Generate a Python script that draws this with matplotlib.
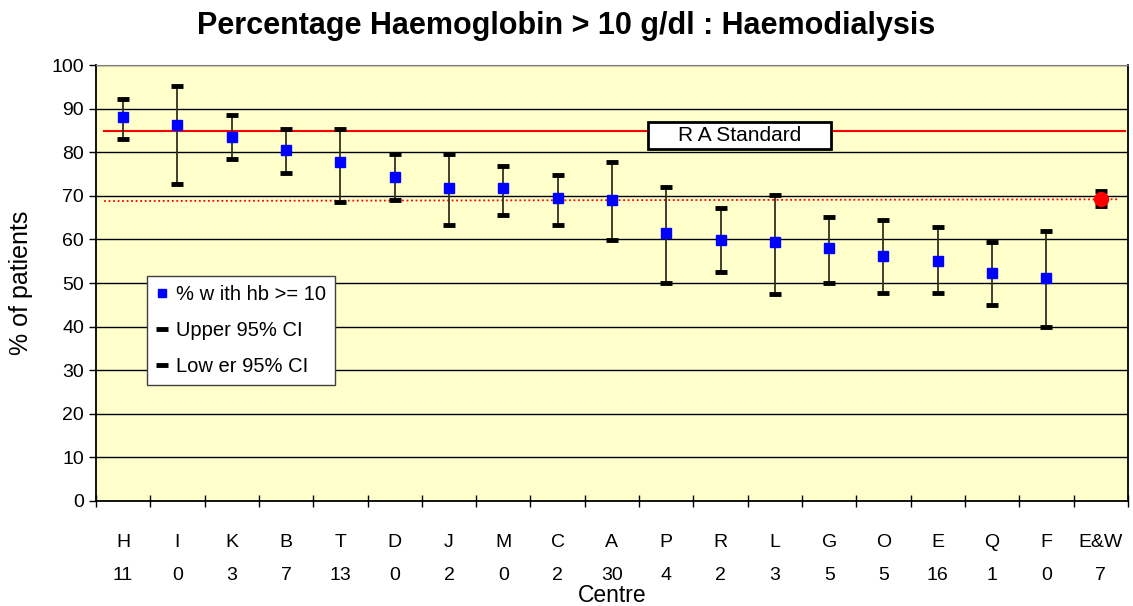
import matplotlib
matplotlib.use("Agg")
import matplotlib.pyplot as plt
import numpy as np
from matplotlib.lines import Line2D
from matplotlib.patches import Rectangle

plt.rcParams['font.family'] = ['Liberation Sans', 'DejaVu Sans']

# data
centres = ['H', 'I', 'K', 'B', 'T', 'D', 'J', 'M', 'C', 'A', 'P', 'R', 'L', 'G', 'O', 'E', 'Q', 'F', 'E&W']
counts = ['11', '0', '3', '7', '13', '0', '2', '0', '2', '30', '4', '2', '3', '5', '5', '16', '1', '0', '7']
pct = [88.0, 86.3, 83.6, 80.4, 77.8, 74.4, 71.7, 71.7, 69.5, 69.1, 61.5, 59.8, 59.3, 58.0, 56.2, 55.0, 52.4, 51.1, 69.3]
upper = [92.1, 95.1, 88.5, 85.4, 85.4, 79.7, 79.7, 76.9, 74.8, 77.8, 72.1, 67.3, 70.2, 65.1, 64.5, 62.8, 59.3, 62.0, 71.1]
lower = [83.1, 72.6, 78.4, 75.2, 68.6, 69.1, 63.4, 65.5, 63.4, 59.8, 50.1, 52.5, 47.5, 50.1, 47.6, 47.6, 45.0, 39.8, 67.7]
ra_standard = 84.8
ew_line = [68.8, 69.2]  # dotted reference line, start / end

fig = plt.figure(figsize=(11.33, 6.06), dpi=100)
ax = fig.add_axes([0.0847, 0.1733, 0.9108, 0.7194])
ax.set_facecolor('#FFFFCC')

x = np.arange(len(centres))
n = len(centres) - 1

# horizontal gridlines
for g in range(10, 101, 10):
    ax.axhline(g, color='black', lw=1.0, zorder=1)

ax.plot([-0.35, n + 0.45], [ra_standard, ra_standard], color='#FF0000', lw=1.5, zorder=2)
ax.plot([-0.35, n + 0.3], ew_line, color='#FF0000', lw=1.3, ls=(0, (1, 1.5)), zorder=2)

for i in range(len(centres)):
    ax.plot([x[i], x[i]], [lower[i], upper[i]], color='#303020', lw=1.3, zorder=3)
ax.plot(x, upper, ls='none', marker='_', ms=9, mew=3.5, color='black', zorder=4)
ax.plot(x, lower, ls='none', marker='_', ms=9, mew=3.5, color='black', zorder=4)
ax.plot(x[:-1], pct[:-1], ls='none', marker='s', ms=7, color='#0000FF', zorder=5)
ax.plot(x[-1:], pct[-1:], ls='none', marker='o', ms=10, color='#FF0000', zorder=5)

ax.set_xlim(-0.5, n + 0.5)
ax.set_ylim(0, 100)
ax.set_yticks(range(0, 101, 10))
ax.set_xticks(x)
ax.set_xticklabels([c + '\n' + k for c, k in zip(centres, counts)], fontsize=14, linespacing=2.2)
ax.set_xticks(np.arange(-0.5, n + 1), minor=True)
ax.tick_params(axis='x', which='major', length=0, pad=24)
ax.tick_params(axis='x', which='minor', length=8, direction='inout', width=1)
ax.tick_params(axis='y', length=5, direction='out', labelsize=14, width=1)

for s in ['left', 'bottom', 'right']:
    ax.spines[s].set_linewidth(1.3)
ax.spines['top'].set_color('#808080')

ax.set_xlabel('Centre', fontsize=16.5, labelpad=0)
ax.set_ylabel('% of patients', fontsize=18, labelpad=13)
fig.suptitle('Percentage Haemoglobin > 10 g/dl : Haemodialysis', fontsize=22, fontweight='bold', x=0.5, y=0.982)

# R A Standard label box
bx, by, bw, bh = 0.6235, 0.838, 0.1773, 0.062
ax.add_patch(Rectangle((bx - bw / 2, by - bh / 2), bw, bh, transform=ax.transAxes,
                       fc='white', ec='black', lw=2, zorder=6))
ax.text(bx, by, 'R A Standard', transform=ax.transAxes, ha='center', va='center', fontsize=15, zorder=7)

handles = [
    Line2D([], [], ls='none', marker='s', ms=6, color='#0000FF'),
    Line2D([], [], ls='none', marker='_', ms=8, mew=3.5, color='black'),
    Line2D([], [], ls='none', marker='_', ms=8, mew=3.5, color='black'),
]
leg = ax.legend(handles, ['% w ith hb >= 10', 'Upper 95% CI', 'Low er 95% CI'], loc='upper left',
                bbox_to_anchor=(0.049, 0.516), fontsize=14.5, frameon=True, fancybox=False,
                edgecolor='#404040', framealpha=1, handlelength=0.6, handletextpad=0.4,
                labelspacing=0.85, borderpad=0.45, borderaxespad=0)
leg.get_frame().set_linewidth(1.0)
leg.set_zorder(8)

fig.savefig('out.png', dpi=100)
